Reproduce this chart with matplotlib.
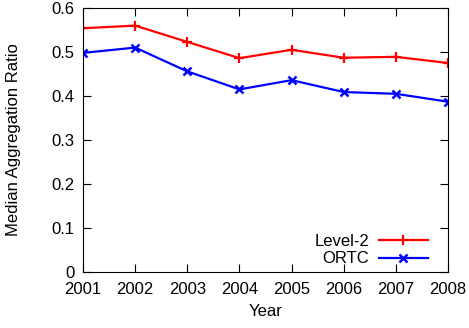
import matplotlib as mpl
import matplotlib.pyplot as plt
import numpy as np

mpl.rc('font', family='Liberation Sans', size=12)

years = [2001, 2002, 2003, 2004, 2005, 2006, 2007, 2008]
level2 = [0.554, 0.560, 0.523, 0.486, 0.505, 0.487, 0.489, 0.475]
ortc = [0.498, 0.510, 0.456, 0.415, 0.436, 0.409, 0.405, 0.387]
yticks = [0, 0.1, 0.2, 0.3, 0.4, 0.5, 0.6]
yticklabels = ["0", "0.1", "0.2", "0.3", "0.4", "0.5", "0.6"]

fig = plt.figure(figsize=(4.69, 3.28), dpi=100, facecolor="w")
ax = fig.add_axes([83/469., 1 - 272/328., (448-83)/469., (272-8)/328.])

ax.plot(years, level2, "-", color="#ff0000", lw=1.6, marker="+",
        markersize=7, mew=1.6, label="Level-2")
ax.plot(years, ortc, "-", color="#0000ff", lw=1.6, marker="x",
        markersize=6, mew=1.8, label="ORTC")

ax.set_xlim(2001, 2008)
ax.set_ylim(0, 0.6)
ax.set_xticks(years)
ax.set_yticks(yticks)
ax.set_yticklabels(yticklabels)
ax.tick_params(direction="in", top=True, right=True, length=5.5, width=0.8)
ax.tick_params(axis="x", pad=7)
ax.tick_params(axis="y", pad=6)
for sp in ax.spines.values():
    sp.set_linewidth(0.8)

ax.set_xlabel("Year", labelpad=5)
ax.set_ylabel("Median Aggregation Ratio", labelpad=22)

leg = ax.legend(loc="lower right", frameon=False, markerfirst=False,
                handlelength=2.9, handletextpad=0.6, labelspacing=0.15,
                borderaxespad=0.3, bbox_to_anchor=(0.976, -0.023))

plt.savefig("out.png", dpi=100)
